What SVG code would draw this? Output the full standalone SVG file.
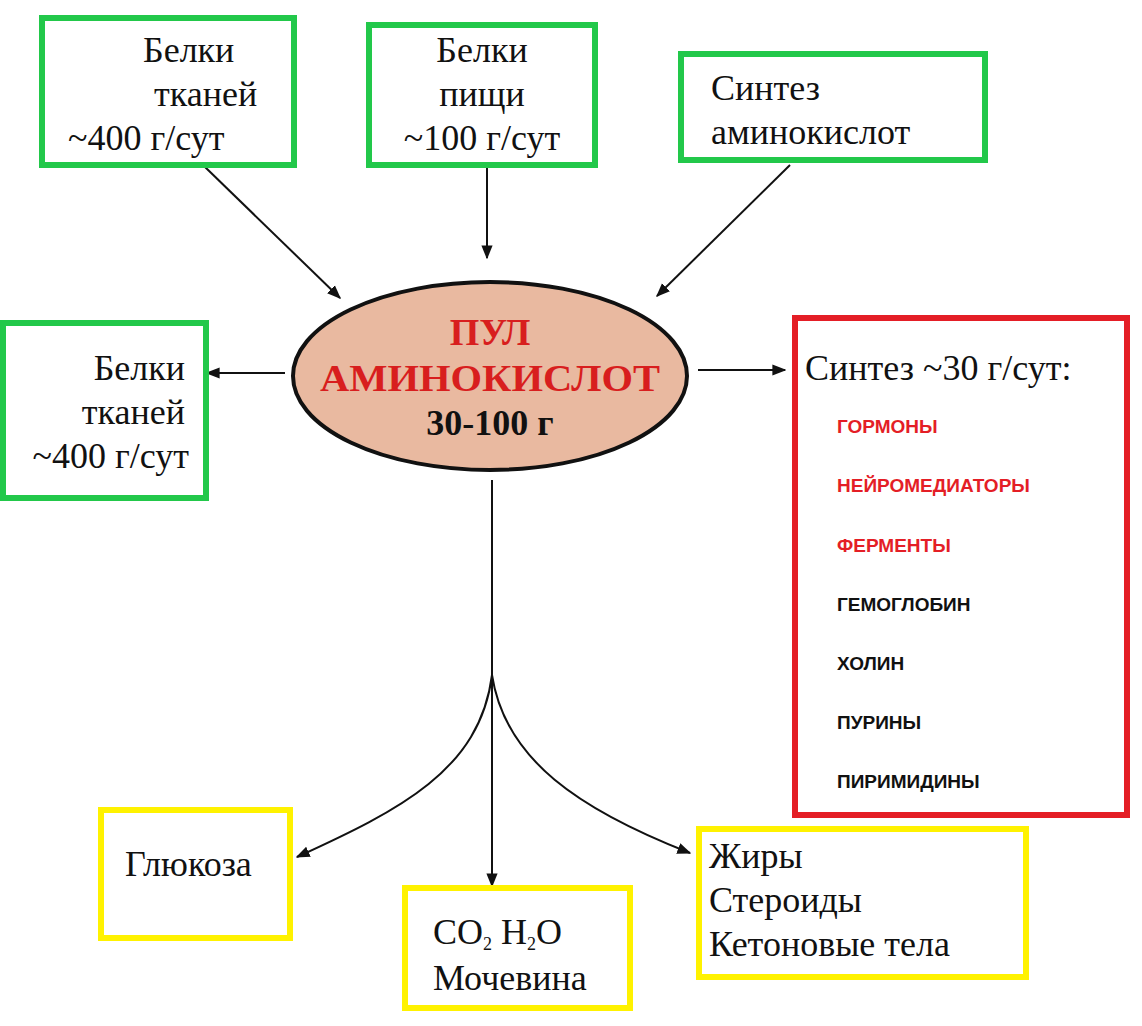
<svg xmlns="http://www.w3.org/2000/svg" width="1142" height="1026" viewBox="0 0 1142 1026">
<style>
.g{fill:none;stroke:#22c84a;stroke-width:6}
.r{fill:none;stroke:#e41e26;stroke-width:6}
.y{fill:none;stroke:#fff200;stroke-width:6}
.t{font-family:"Liberation Serif",serif;font-size:36px;fill:#111}
.s{font-family:"Liberation Sans",sans-serif;font-size:19px;font-weight:bold;fill:#111}
.sr{fill:#e41e26}
.c{fill:none;stroke:#111;stroke-width:2}
</style>
<defs><marker id="b" viewBox="0 0 10 10" refX="9" refY="5" markerWidth="14" markerHeight="14" orient="auto" markerUnits="userSpaceOnUse"><path d="M0,1 L10,5 L0,9 Z" fill="#111"/></marker></defs>
<rect width="1142" height="1026" fill="#fff"/>
<g id="connectors">
<line class="c" x1="205" y1="167" x2="340" y2="298" marker-end="url(#b)"/>
<line class="c" x1="487" y1="168" x2="487" y2="258" marker-end="url(#b)"/>
<line class="c" x1="790" y1="165" x2="657" y2="296" marker-end="url(#b)"/>
<line class="c" x1="285" y1="373" x2="207" y2="373" marker-end="url(#b)"/>
<line class="c" x1="698" y1="370" x2="785" y2="370" marker-end="url(#b)"/>
<line class="c" x1="492" y1="480" x2="492" y2="886" marker-end="url(#b)"/>
<path class="c" d="M492,675 C480,770 400,810 297,857" marker-end="url(#b)"/>
<path class="c" d="M492,675 C505,760 580,810 690,853" marker-end="url(#b)"/>
</g>
<g id="pool">
<ellipse cx="490" cy="376" rx="197" ry="94" fill="#e9b9a0" stroke="#111" stroke-width="4"/>
<text x="490" y="345" text-anchor="middle" font-family="Liberation Serif,serif" font-weight="bold" font-size="38" fill="#d81e1e">ПУЛ</text>
<text x="490" y="391" text-anchor="middle" font-family="Liberation Serif,serif" font-weight="bold" font-size="38" fill="#d81e1e" textLength="340" lengthAdjust="spacingAndGlyphs">АМИНОКИСЛОТ</text>
<text x="490" y="435" text-anchor="middle" font-family="Liberation Serif,serif" font-weight="bold" font-size="36" fill="#111">30-100 г</text>
</g>
<g id="n1"><rect class="g" x="42" y="18" width="252" height="147"/>
<text class="t" x="143" y="62">Белки</text><text class="t" x="154" y="106">тканей</text><text class="t" x="68" y="150">~400 г/сут</text></g>
<g id="n2"><rect class="g" x="369" y="25" width="226" height="140"/>
<text class="t" text-anchor="middle" x="482" y="62">Белки</text><text class="t" text-anchor="middle" x="482" y="106">пищи</text><text class="t" text-anchor="middle" x="482" y="150">~100 г/сут</text></g>
<g id="n3"><rect class="g" x="681" y="54" width="304" height="106"/>
<text class="t" x="711" y="100">Синтез</text><text class="t" x="711" y="144">аминокислот</text></g>
<g id="n4"><rect class="g" x="3" y="323" width="203" height="175"/>
<text class="t" x="185" y="380" text-anchor="end">Белки</text><text class="t" x="185" y="424" text-anchor="end">тканей</text><text class="t" x="189" y="468" text-anchor="end">~400 г/сут</text></g>
<g id="n5"><rect class="r" x="795" y="318" width="332" height="497"/>
<text class="t" x="805" y="380">Синтез ~30 г/сут:</text>
<text class="s sr" x="837" y="433">ГОРМОНЫ</text>
<text class="s sr" x="837" y="492">НЕЙРОМЕДИАТОРЫ</text>
<text class="s sr" x="837" y="552">ФЕРМЕНТЫ</text>
<text class="s" x="837" y="611">ГЕМОГЛОБИН</text>
<text class="s" x="837" y="670">ХОЛИН</text>
<text class="s" x="837" y="729">ПУРИНЫ</text>
<text class="s" x="837" y="788">ПИРИМИДИНЫ</text></g>
<g id="n6"><rect class="y" x="101" y="810" width="189" height="128"/>
<text class="t" x="125" y="876">Глюкоза</text></g>
<g id="n7"><rect class="y" x="405" y="888" width="225" height="120"/>
<text class="t" x="433" y="944">CO<tspan font-size="18" dy="6">2</tspan><tspan dy="-6"> H</tspan><tspan font-size="18" dy="6">2</tspan><tspan dy="-6">O</tspan></text><text class="t" x="433" y="990">Мочевина</text></g>
<g id="n8"><rect class="y" x="699" y="829" width="327" height="148"/>
<text class="t" x="709" y="868">Жиры</text><text class="t" x="709" y="912">Стероиды</text><text class="t" x="709" y="956">Кетоновые тела</text></g>
</svg>
